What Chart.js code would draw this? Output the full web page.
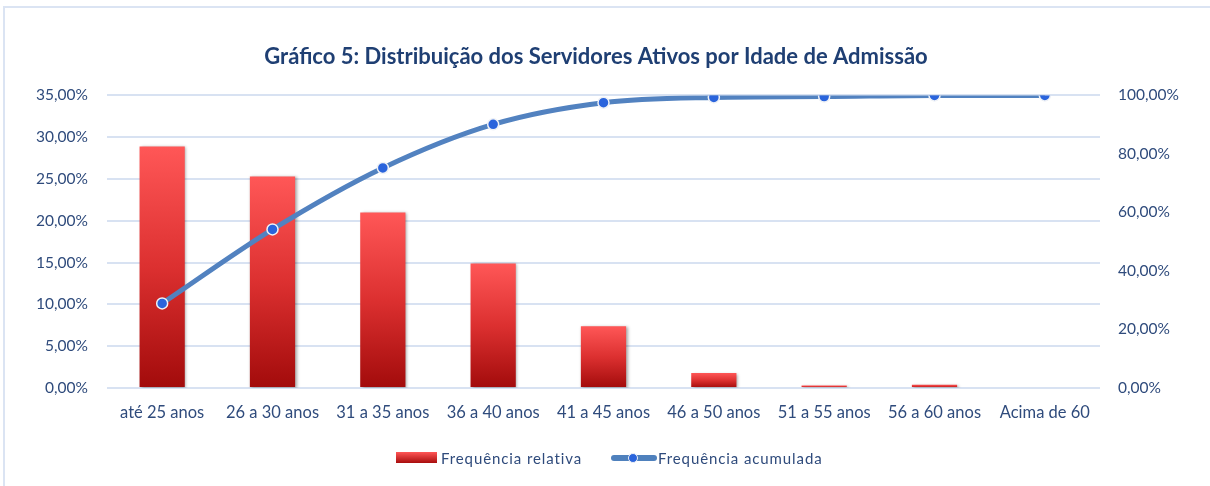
<!DOCTYPE html>
<html><head><meta charset="utf-8">
<script src="https://cdn.jsdelivr.net/npm/chart.js@4"></script>
<style>
html,body{margin:0;padding:0;background:#fff;}
#wrap{position:relative;width:1210px;height:486px;overflow:hidden;}
#frame{position:absolute;left:3px;top:6px;width:1300px;height:600px;border:2px solid #dbe4f3;box-sizing:border-box;pointer-events:none;}
canvas{position:absolute;left:0;top:0;}
.lg{position:absolute;font-family:Lato,"Open Sans",sans-serif;font-size:15px;color:#2f4b7c;letter-spacing:0.9px;line-height:18px;white-space:nowrap;}
</style></head>
<body>
<div id="wrap">
<div id="frame"></div>
<canvas id="c" width="1210" height="486"></canvas>
<div style="position:absolute;left:396px;top:452px;width:41px;height:11px;background:linear-gradient(#ff5656,#a80d0d);"></div>
<div class="lg" id="lg1" style="left:441px;top:449px;"></div>
<div style="position:absolute;left:611px;top:455px;width:46px;height:6px;border-radius:3px;background:#4f81bd;"></div>
<div style="position:absolute;left:628px;top:453px;width:8px;height:8px;border-radius:50%;background:#2a64dc;border:1.5px solid #eef1f6;"></div>
<div class="lg" id="lg2" style="left:658px;top:449px;"></div>
</div>
<script>
const categories = ['até 25 anos','26 a 30 anos','31 a 35 anos','36 a 40 anos','41 a 45 anos','46 a 50 anos','51 a 55 anos','56 a 60 anos','Acima de 60'];
const relativa = [28.9, 25.3, 21.0, 14.9, 7.4, 1.8, 0.3, 0.4, 0.0];
const acumulada = [28.9, 54.2, 75.2, 90.1, 97.5, 99.3, 99.6, 100.0, 100.0];
const seriesNames = ['Frequência relativa','Frequência acumulada'];
const titleText = 'Gráfico 5: Distribuição dos Servidores Ativos por Idade de Admissão';
const leftTicks = [0,5,10,15,20,25,30,35];
const rightTicks = [0,20,40,60,80,100];

document.getElementById('lg1').textContent = seriesNames[0];
document.getElementById('lg2').textContent = seriesNames[1];

const FONT = 'Lato, "Open Sans", sans-serif';
const TXT = '#2f4b7c';
const fmt = v => v.toFixed(2).replace('.', ',') + '%';

const shadowPlugin = {
  id: 'shadow',
  beforeDatasetDraw(chart, args) {
    const ctx = chart.ctx;
    ctx.save();
    if (args.meta.type === 'bar') {
      ctx.shadowColor = 'rgba(0,0,0,0.35)';
      ctx.shadowBlur = 3;
      ctx.shadowOffsetX = 1.5;
      ctx.shadowOffsetY = 1;
    }
  },
  afterDatasetDraw(chart) { chart.ctx.restore(); }
};

new Chart(document.getElementById('c'), {
  type: 'bar',
  data: {
    labels: categories,
    datasets: [
      {
        type: 'line',
        label: seriesNames[1],
        data: acumulada,
        yAxisID: 'y1',
        order: 0,
        borderColor: '#5282c0',
        borderWidth: 5,
        tension: 0.3,
        cubicInterpolationMode: 'monotone',
        pointRadius: 5.5,
        pointBorderWidth: 1.5,
        pointBorderColor: '#eef1f6',
        pointBackgroundColor: '#2a64dc',
        fill: false
      },
      {
        type: 'bar',
        label: seriesNames[0],
        data: relativa,
        yAxisID: 'y',
        order: 1,
        barPercentage: 0.41,
        categoryPercentage: 1,
        backgroundColor: (c) => {
          const ch = c.chart;
          if (!ch.chartArea || c.raw === undefined) return '#e03030';
          const ys = ch.scales.y;
          const top = ys.getPixelForValue(c.raw);
          const bot = ys.getPixelForValue(0);
          if (!isFinite(top) || bot - top < 1) return '#ff5555';
          const g = ch.ctx.createLinearGradient(0, top, 0, bot);
          g.addColorStop(0, '#ff5757');
          g.addColorStop(0.5, '#dc3030');
          g.addColorStop(1, '#a20b0b');
          return g;
        }
      }
    ]
  },
  options: {
    responsive: false,
    animation: false,
    layout: { padding: { left: 0, right: 18, top: 0, bottom: 0 } },
    plugins: {
      legend: { display: false },
      tooltip: { enabled: false },
      title: {
        display: true,
        text: titleText,
        color: '#1f3f73',
        font: { family: FONT, size: 22, weight: 'bold', lineHeight: 1.2 },
        padding: { top: 44, bottom: 25 }
      }
    },
    scales: {
      x: {
        grid: { display: false, drawTicks: false },
        border: { display: false },
        ticks: { color: TXT, font: { family: FONT, size: 16.5 }, padding: 15, maxRotation: 0, autoSkip: false },
        afterFit: s => { s.height = 98; }
      },
      y: {
        position: 'left',
        min: 0, max: 35,
        afterBuildTicks: s => { s.ticks = leftTicks.map(v => ({ value: v })); },
        grid: { color: '#d8e2f2', lineWidth: 2, drawTicks: false },
        border: { display: false },
        ticks: { color: TXT, font: { family: FONT, size: 15.5 }, padding: 19, callback: v => fmt(v) },
        afterFit: s => { s.width = 107; }
      },
      y1: {
        position: 'right',
        min: 0, max: 100,
        afterBuildTicks: s => { s.ticks = rightTicks.map(v => ({ value: v })); },
        grid: { display: false, drawTicks: false },
        border: { display: false },
        ticks: { color: TXT, font: { family: FONT, size: 15.5 }, padding: 18, callback: v => fmt(v) },
        afterFit: s => { s.width = 92; }
      }
    }
  },
  plugins: [shadowPlugin]
});
</script>
</body></html>
